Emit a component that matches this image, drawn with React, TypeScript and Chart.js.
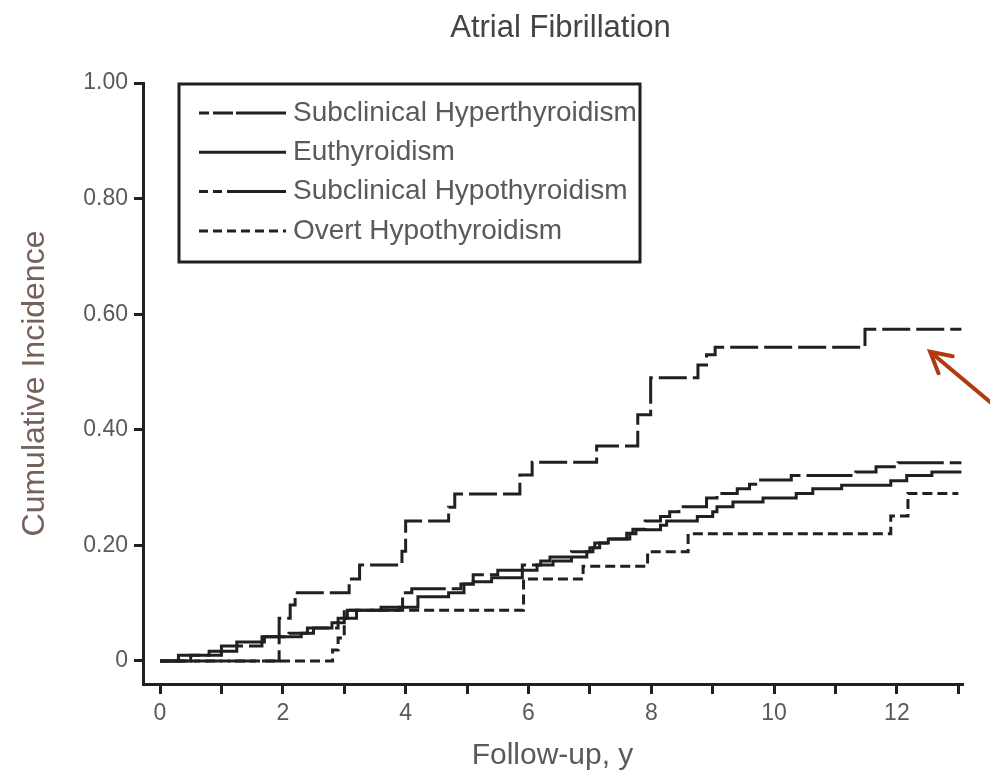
import React, { useEffect, useRef } from 'react';
import { Chart, registerables } from 'chart.js';

Chart.register(...registerables);

const chartTitle = 'Atrial Fibrillation';
const xAxisTitle = 'Follow-up, y';
const yAxisTitle = 'Cumulative Incidence';

const xTickValues = [0, 1, 2, 3, 4, 5, 6, 7, 8, 9, 10, 11, 12, 13];
const xTickLabels = ['0', '', '2', '', '4', '', '6', '', '8', '', '10', '', '12', ''];
const yTickValues = [0, 0.2, 0.4, 0.6, 0.8, 1.0];
const yTickLabels = ['0', '0.20', '0.40', '0.60', '0.80', '1.00'];

const seriesNames = [
  'Subclinical Hyperthyroidism',
  'Euthyroidism',
  'Subclinical Hypothyroidism',
  'Overt Hypothyroidism',
];

// Subclinical Hyperthyroidism (long dashes)
const subHyperX = [0, 1.94, 2.12, 2.2, 3.08, 3.25, 3.94, 4.0, 4.7, 4.8, 5.86, 6.06, 7.11, 7.78, 7.99, 8.76, 8.9, 9.04, 11.48, 13.05];
const subHyperY = [0, 0.074, 0.097, 0.118, 0.142, 0.166, 0.19, 0.242, 0.266, 0.289, 0.322, 0.344, 0.372, 0.426, 0.49, 0.512, 0.53, 0.543, 0.574, 0.574];

// Euthyroidism (solid)
const euthX = [0, 0.3, 0.8, 1.25, 1.7, 2.3, 2.5, 2.8, 3.0, 3.2, 3.9, 4.2, 4.7, 4.95, 5.1, 5.4, 5.9, 6.14, 6.4, 6.7, 6.95, 7.05, 7.16, 7.3, 7.65, 7.75, 8.15, 8.25, 8.75, 9.0, 9.07, 9.33, 9.82, 10.36, 10.63, 11.1, 11.9, 12.16, 12.57, 13.05];
const euthY = [0, 0.01, 0.017, 0.033, 0.042, 0.048, 0.057, 0.066, 0.074, 0.088, 0.093, 0.111, 0.118, 0.133, 0.137, 0.144, 0.157, 0.166, 0.173, 0.18, 0.189, 0.196, 0.204, 0.211, 0.22, 0.227, 0.235, 0.242, 0.25, 0.258, 0.267, 0.275, 0.282, 0.29, 0.298, 0.304, 0.312, 0.321, 0.327, 0.327];

// Subclinical Hypothyroidism (dashed)
const subHypoX = [0, 0.5, 1.0, 1.66, 2.1, 2.4, 2.9, 3.05, 3.6, 3.95, 4.1, 4.9, 5.1, 5.5, 5.9, 6.2, 6.35, 6.7, 7.0, 7.08, 7.33, 7.6, 7.7, 7.9, 8.15, 8.3, 8.45, 8.9, 9.07, 9.4, 9.6, 9.74, 10.28, 11.33, 11.66, 12.02, 13.05];
const subHypoY = [0, 0.01, 0.026, 0.042, 0.048, 0.057, 0.074, 0.088, 0.093, 0.118, 0.125, 0.133, 0.149, 0.157, 0.166, 0.173, 0.18, 0.189, 0.196, 0.204, 0.211, 0.221, 0.228, 0.242, 0.25, 0.258, 0.267, 0.282, 0.29, 0.298, 0.306, 0.313, 0.321, 0.327, 0.336, 0.343, 0.343];

// Overt Hypothyroidism (short dashes)
const overtX = [0, 2.81, 2.9, 3.0, 5.92, 6.89, 7.94, 8.6, 11.9, 12.18, 13.0];
const overtY = [0, 0.019, 0.04, 0.088, 0.142, 0.164, 0.189, 0.22, 0.251, 0.29, 0.29];

// annotation arrow, in data units
const arrowTip = [12.54, 0.535];
const arrowTail = [13.7, 0.432];

const INK = '#231f20';
const TEXT = '#5a5a5a';
const FONT = '"Liberation Sans", Arial, Helvetica, sans-serif';

const curveDashes = [[28, 6], [], [46, 6], [10, 5]];
const legendDashes = [[10, 4, 20, 3, 80], [], [9, 5, 9, 5, 80], [9, 5]];

const toPoints = (xs: number[], ys: number[]) => xs.map((x, i) => ({ x, y: ys[i] }));

const decorPlugin = {
  id: 'decor',
  afterDraw(chart: any) {
    const { ctx, chartArea: ca, scales } = chart;
    ctx.save();
    // title
    ctx.fillStyle = '#444';
    ctx.font = `31px ${FONT}`;
    ctx.textAlign = 'center';
    ctx.textBaseline = 'middle';
    ctx.fillText(chartTitle, (ca.left + ca.right) / 2 + 8, 28);

    // legend box
    const bl = ca.left + 36;
    const bt = ca.top + 1;
    const bw = 461;
    const bh = 178;
    ctx.strokeStyle = INK;
    ctx.lineWidth = 3;
    ctx.setLineDash([]);
    ctx.strokeRect(bl, bt, bw, bh);
    ctx.font = `28px ${FONT}`;
    ctx.textAlign = 'left';
    ctx.fillStyle = TEXT;
    chart.data.datasets.forEach((ds: any, i: number) => {
      const y = bt + 29 + i * 39.3;
      ctx.beginPath();
      ctx.setLineDash(legendDashes[i]);
      ctx.lineWidth = 3;
      ctx.strokeStyle = INK;
      ctx.moveTo(bl + 20, y);
      ctx.lineTo(bl + 107, y);
      ctx.stroke();
      ctx.fillText(ds.label, bl + 114, y);
    });
    ctx.setLineDash([]);

    // arrow
    const x = scales.x;
    const yS = scales.y;
    const tx = x.getPixelForValue(arrowTip[0]);
    const ty = yS.getPixelForValue(arrowTip[1]);
    const sx = x.getPixelForValue(arrowTail[0]);
    const sy = yS.getPixelForValue(arrowTail[1]);
    const ang = Math.atan2(sy - ty, sx - tx);
    const len = 23;
    const spread = 0.5;
    ctx.strokeStyle = '#b23a12';
    ctx.lineWidth = 4;
    ctx.lineCap = 'round';
    ctx.beginPath();
    ctx.moveTo(sx, sy);
    ctx.lineTo(tx, ty);
    ctx.moveTo(tx + Math.cos(ang - spread) * len, ty + Math.sin(ang - spread) * len);
    ctx.lineTo(tx, ty);
    ctx.lineTo(tx + Math.cos(ang + spread) * len, ty + Math.sin(ang + spread) * len);
    ctx.stroke();
    ctx.restore();
  },
};

export default function App() {
  const ref = useRef<HTMLCanvasElement | null>(null);
  useEffect(() => {
    if (!ref.current) return;
    const seriesX = [subHyperX, euthX, subHypoX, overtX];
    const seriesY = [subHyperY, euthY, subHypoY, overtY];
    const chart = new Chart(ref.current, {
      type: 'line',
      data: {
        datasets: seriesNames.map((name, i) => ({
          label: name,
          data: toPoints(seriesX[i], seriesY[i]),
          stepped: 'before',
          borderColor: INK,
          backgroundColor: INK,
          borderWidth: 3,
          borderDash: curveDashes[i],
          pointRadius: 0,
          fill: false,
        })),
      },
      options: {
        animation: false,
        responsive: false,
        events: [],
        layout: { padding: { left: 0, right: 28, top: 83, bottom: 0 } },
        plugins: {
          legend: { display: false },
          title: { display: false },
          tooltip: { enabled: false },
        },
        scales: {
          x: {
            type: 'linear',
            min: -0.277,
            max: 13.06,
            afterBuildTicks: (s: any) => {
              s.ticks = xTickValues.map((v) => ({ value: v }));
            },
            afterFit: (s: any) => {
              s.height = 93;
            },
            ticks: {
              autoSkip: false,
              maxRotation: 0,
              padding: 6,
              color: TEXT,
              font: { family: FONT, size: 23 },
              callback: (_v: any, i: number) => xTickLabels[i],
            },
            grid: { drawOnChartArea: false, drawTicks: true, tickLength: 10, lineWidth: 3, color: INK },
            border: { display: true, color: INK, width: 3 },
            title: {
              display: true,
              text: xAxisTitle,
              color: TEXT,
              font: { family: FONT, size: 30 },
              padding: { top: 0, bottom: 3 },
            },
          },
          y: {
            type: 'linear',
            min: -0.0398,
            max: 1.0,
            afterBuildTicks: (s: any) => {
              s.ticks = yTickValues.map((v) => ({ value: v }));
            },
            afterFit: (s: any) => {
              s.width = 143;
            },
            ticks: {
              autoSkip: false,
              padding: 6,
              color: TEXT,
              font: { family: FONT, size: 23 },
              callback: (_v: any, i: number) => yTickLabels[i],
            },
            grid: { drawOnChartArea: false, drawTicks: true, tickLength: 9, lineWidth: 3, color: INK },
            border: { display: true, color: INK, width: 3 },
            title: {
              display: true,
              text: yAxisTitle,
              color: '#74625a',
              font: { family: FONT, size: 32 },
              padding: { top: 16, bottom: 0 },
            },
          },
        },
      },
      plugins: [decorPlugin],
    } as any);
    return () => chart.destroy();
  }, []);
  return (
    <div style={{ position: 'fixed', left: 0, top: 0, width: 990, height: 777, background: '#fff' }}>
      <canvas ref={ref} width={990} height={777} style={{ width: 990, height: 777, display: 'block' }} />
    </div>
  );
}
